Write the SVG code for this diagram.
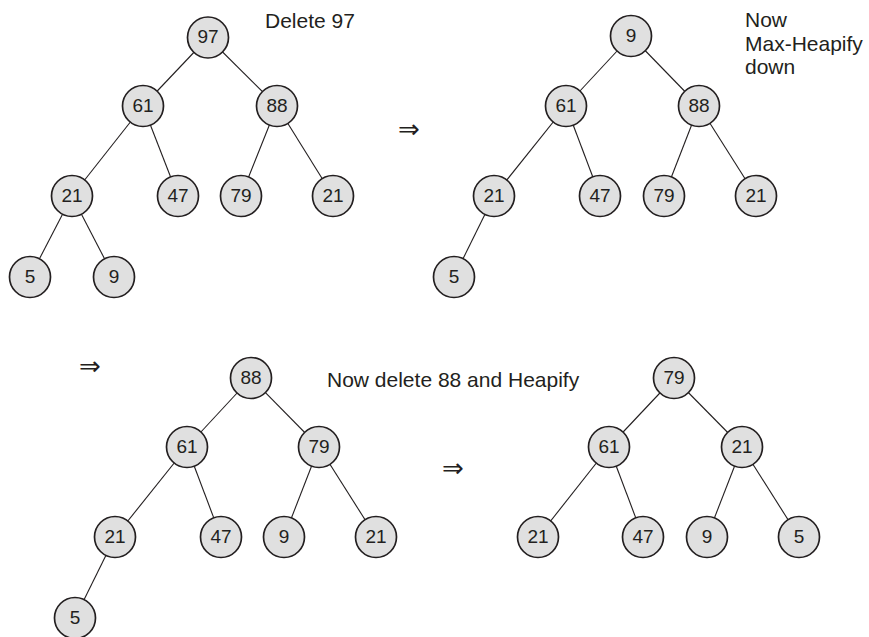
<svg xmlns="http://www.w3.org/2000/svg" width="869" height="637" viewBox="0 0 869 637">
<style>
.bg{fill:#ffffff}
.e line{stroke:#231f20;stroke-width:1.1}
.n circle{fill:#e0e0e0;stroke:#231f20;stroke-width:1.7}
.n text{font-family:"Liberation Sans",Arial,sans-serif;font-size:19px;fill:#231f20;text-anchor:middle}
.lbl{font-family:"Liberation Sans",Arial,sans-serif;font-size:21px;fill:#231f20}
.arr{font-family:"DejaVu Sans",sans-serif;font-size:26px;fill:#231f20;text-anchor:middle}
</style>
<rect class="bg" x="0" y="0" width="869" height="637"/>
<g id="connectors" class="e">
<line x1="208" y1="37.5" x2="143" y2="106"/>
<line x1="208" y1="37.5" x2="277" y2="106"/>
<line x1="143" y1="106" x2="72" y2="196"/>
<line x1="143" y1="106" x2="178" y2="196"/>
<line x1="277" y1="106" x2="241" y2="196"/>
<line x1="277" y1="106" x2="333" y2="196"/>
<line x1="72" y1="196" x2="30" y2="277"/>
<line x1="72" y1="196" x2="114" y2="277"/>
<line x1="631" y1="36" x2="566" y2="106"/>
<line x1="631" y1="36" x2="699" y2="106"/>
<line x1="566" y1="106" x2="494" y2="196"/>
<line x1="566" y1="106" x2="600" y2="196"/>
<line x1="699" y1="106" x2="664" y2="196"/>
<line x1="699" y1="106" x2="756" y2="196"/>
<line x1="494" y1="196" x2="454" y2="277"/>
<line x1="251" y1="378" x2="187" y2="447"/>
<line x1="251" y1="378" x2="319" y2="447"/>
<line x1="187" y1="447" x2="115" y2="537"/>
<line x1="187" y1="447" x2="221" y2="537"/>
<line x1="319" y1="447" x2="284" y2="537"/>
<line x1="319" y1="447" x2="376" y2="537"/>
<line x1="115" y1="537" x2="75" y2="618"/>
<line x1="674" y1="378" x2="609" y2="447"/>
<line x1="674" y1="378" x2="742" y2="447"/>
<line x1="609" y1="447" x2="538" y2="537"/>
<line x1="609" y1="447" x2="643" y2="537"/>
<line x1="742" y1="447" x2="707" y2="537"/>
<line x1="742" y1="447" x2="799" y2="537"/>
</g>
<g id="a97" class="n"><circle cx="208" cy="37.5" r="20.5"/><text x="208" y="43">97</text></g>
<g id="a61" class="n"><circle cx="143" cy="106" r="20.5"/><text x="143" y="111.5">61</text></g>
<g id="a88" class="n"><circle cx="277" cy="106" r="20.5"/><text x="277" y="111.5">88</text></g>
<g id="a21" class="n"><circle cx="72" cy="196" r="20.5"/><text x="72" y="201.5">21</text></g>
<g id="a47" class="n"><circle cx="178" cy="196" r="20.5"/><text x="178" y="201.5">47</text></g>
<g id="a79" class="n"><circle cx="241" cy="196" r="20.5"/><text x="241" y="201.5">79</text></g>
<g id="a21b" class="n"><circle cx="333" cy="196" r="20.5"/><text x="333" y="201.5">21</text></g>
<g id="a5" class="n"><circle cx="30" cy="277" r="20.5"/><text x="30" y="282.5">5</text></g>
<g id="a9" class="n"><circle cx="114" cy="277" r="20.5"/><text x="114" y="282.5">9</text></g>
<g id="b9" class="n"><circle cx="631" cy="36" r="20.5"/><text x="631" y="41.5">9</text></g>
<g id="b61" class="n"><circle cx="566" cy="106" r="20.5"/><text x="566" y="111.5">61</text></g>
<g id="b88" class="n"><circle cx="699" cy="106" r="20.5"/><text x="699" y="111.5">88</text></g>
<g id="b21" class="n"><circle cx="494" cy="196" r="20.5"/><text x="494" y="201.5">21</text></g>
<g id="b47" class="n"><circle cx="600" cy="196" r="20.5"/><text x="600" y="201.5">47</text></g>
<g id="b79" class="n"><circle cx="664" cy="196" r="20.5"/><text x="664" y="201.5">79</text></g>
<g id="b21b" class="n"><circle cx="756" cy="196" r="20.5"/><text x="756" y="201.5">21</text></g>
<g id="b5" class="n"><circle cx="454" cy="277" r="20.5"/><text x="454" y="282.5">5</text></g>
<g id="c88" class="n"><circle cx="251" cy="378" r="20.5"/><text x="251" y="383.5">88</text></g>
<g id="c61" class="n"><circle cx="187" cy="447" r="20.5"/><text x="187" y="452.5">61</text></g>
<g id="c79" class="n"><circle cx="319" cy="447" r="20.5"/><text x="319" y="452.5">79</text></g>
<g id="c21" class="n"><circle cx="115" cy="537" r="20.5"/><text x="115" y="542.5">21</text></g>
<g id="c47" class="n"><circle cx="221" cy="537" r="20.5"/><text x="221" y="542.5">47</text></g>
<g id="c9" class="n"><circle cx="284" cy="537" r="20.5"/><text x="284" y="542.5">9</text></g>
<g id="c21b" class="n"><circle cx="376" cy="537" r="20.5"/><text x="376" y="542.5">21</text></g>
<g id="c5" class="n"><circle cx="75" cy="618" r="20.5"/><text x="75" y="623.5">5</text></g>
<g id="d79" class="n"><circle cx="674" cy="378" r="20.5"/><text x="674" y="383.5">79</text></g>
<g id="d61" class="n"><circle cx="609" cy="447" r="20.5"/><text x="609" y="452.5">61</text></g>
<g id="d21" class="n"><circle cx="742" cy="447" r="20.5"/><text x="742" y="452.5">21</text></g>
<g id="d21b" class="n"><circle cx="538" cy="537" r="20.5"/><text x="538" y="542.5">21</text></g>
<g id="d47" class="n"><circle cx="643" cy="537" r="20.5"/><text x="643" y="542.5">47</text></g>
<g id="d9" class="n"><circle cx="707" cy="537" r="20.5"/><text x="707" y="542.5">9</text></g>
<g id="d5" class="n"><circle cx="799" cy="537" r="20.5"/><text x="799" y="542.5">5</text></g>
<g id="labels">
<text class="lbl" x="265" y="28">Delete 97</text>
<text class="lbl" x="745" y="27">Now</text>
<text class="lbl" x="745" y="51">Max-Heapify</text>
<text class="lbl" x="745" y="74">down</text>
<text class="lbl" x="327" y="387">Now delete 88 and Heapify</text>
<text class="arr" x="409" y="138">⇒</text>
<text class="arr" x="90" y="375">⇒</text>
<text class="arr" x="453" y="477">⇒</text>
</g>
</svg>
